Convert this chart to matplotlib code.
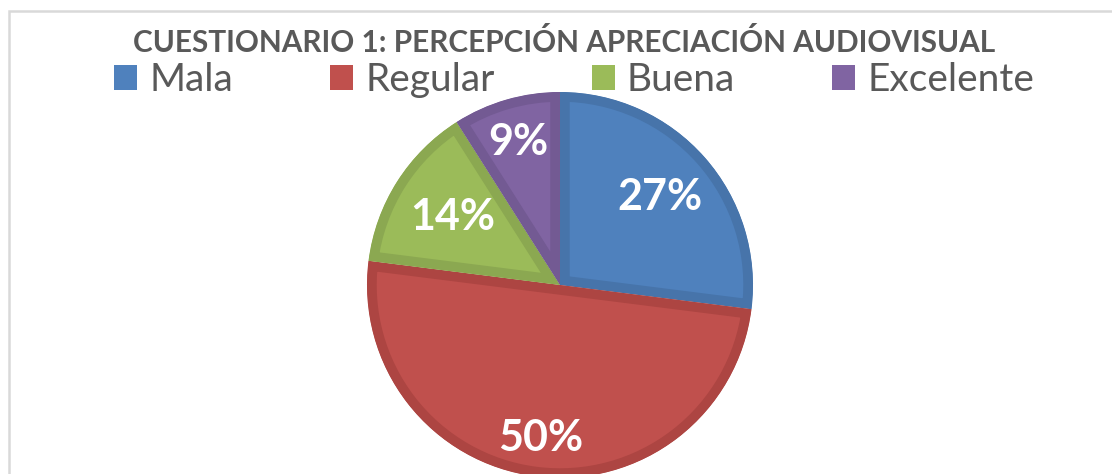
import matplotlib
matplotlib.use("Agg")
import matplotlib.pyplot as plt
from matplotlib.patches import Rectangle
import numpy as np

title = "CUESTIONARIO 1: PERCEPCIÓN APRECIACIÓN AUDIOVISUAL"
categories = ["Mala", "Regular", "Buena", "Excelente"]
values = [27, 50, 14, 9]
fill_colors = ["#4F81BD", "#C0504D", "#9BBB59", "#8064A2"]
edge_colors = ["#4774AA", "#AD4542", "#8BA851", "#735A93"]
label_dist = [0.69, 0.80, 0.66, 0.77]

W, H = 1112, 474
fig = plt.figure(figsize=(W / 100, H / 100), dpi=100)
fig.patch.set_facecolor("white")
ax = fig.add_axes([0, 0, 1, 1])

cx, cy, R = 560, 474 - 285, 193
wedges, _ = ax.pie(values, colors=fill_colors, startangle=90, counterclock=False,
                   center=(cx, cy), radius=R, frame=True,
                   wedgeprops=dict(linewidth=14, joinstyle="miter"))
ax.set_xlim(0, W)
ax.set_ylim(0, H)
ax.set_aspect("equal")
ax.axis("off")
for w, ec in zip(wedges, edge_colors):
    w.set_edgecolor(ec)
    w.set_clip_on(True)
    w.set_clip_path(w)

# chart frame
ax.add_patch(Rectangle((9, -20), W + 20, H - 11 + 20, fill=False,
                       edgecolor="#D9D9D9", linewidth=1.8, clip_on=False))

total = sum(values)
for w, v, d in zip(wedges, values, label_dist):
    ang = np.deg2rad((w.theta1 + w.theta2) / 2)
    x = cx + d * R * np.cos(ang)
    y = cy + d * R * np.sin(ang)
    ax.text(x, y, f"{round(100 * v / total)}%", ha="center", va="center",
            color="white", fontsize=31, fontweight="bold", family="Lato")

fig.text(564 / W, 1 - 43 / H, title, ha="center", va="center",
         fontsize=21.4, fontweight="bold", color="#595959", family="Lato")

handles = [Rectangle((0, 0), 1, 1, facecolor=c, edgecolor="none") for c in fill_colors]
leg = fig.legend(handles, categories, loc="center", bbox_to_anchor=(574 / W, 1 - 80 / H),
                 ncol=4, frameon=False, prop=dict(family="Lato", size=28),
                 handlelength=0.6, handleheight=0.6, handletextpad=0.3,
                 columnspacing=2.5, labelcolor="#595959", borderpad=0, borderaxespad=0)

fig.savefig("out.png", dpi=100, facecolor="white")
